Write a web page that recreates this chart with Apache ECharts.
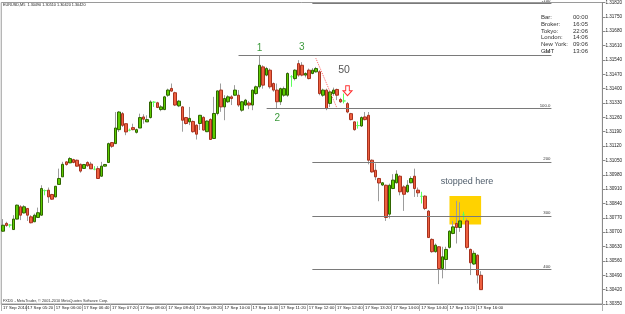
<!DOCTYPE html>
<html>
<head>
<meta charset="utf-8">
<script src="https://cdn.jsdelivr.net/npm/echarts@6/dist/echarts.min.js"></script>
<style>
  html, body { margin: 0; padding: 0; background: #fff; }
  #chart { width: 625px; height: 314px; }
</style>
</head>
<body>
<div id="chart"></div>
<script>
// EURUSD M5, 17 Sep 2010, first visible bar 04:45, last bar 16:05
const startMinutes = 4 * 60 + 45;
const emptySlots = 34; // chart shift on the right

const opens = [
  1.30705, 1.30743, 1.30735, 1.30713, 1.30764, 1.30824, 1.30794, 1.30816, 1.30775, 1.30751,
  1.30772, 1.30783, 1.30903, 1.30905, 1.30884, 1.30872, 1.30933, 1.30970, 1.31043, 1.31038,
  1.31054, 1.31051, 1.31031, 1.31011, 1.31040, 1.31032, 1.31007, 1.31010, 1.30973, 1.31022,
  1.31040, 1.31137, 1.31132, 1.31200, 1.31278, 1.31229, 1.31197, 1.31210, 1.31187, 1.31208,
  1.31262, 1.31238, 1.31259, 1.31334, 1.31331, 1.31298, 1.31298, 1.31368, 1.31401, 1.31380,
  1.31316, 1.31311, 1.31259, 1.31238, 1.31240, 1.31222, 1.31230, 1.31260, 1.31190, 1.31250,
  1.31157, 1.31279, 1.31393, 1.31311, 1.31336, 1.31360, 1.31368, 1.31368, 1.31295, 1.31320,
  1.31330, 1.31320, 1.31376, 1.31409, 1.31506, 1.31466, 1.31490, 1.31425, 1.31393, 1.31336,
  1.31368, 1.31368, 1.31458, 1.31449, 1.31522, 1.31514, 1.31466, 1.31490, 1.31474, 1.31482,
  1.31482, 1.31368, 1.31393, 1.31328, 1.31376, 1.31396, 1.31347, 1.31340, 1.31327, 1.31278,
  1.31238, 1.31220, 1.31218, 1.31262, 1.31270, 1.31051, 1.31002, 1.30962, 1.30930, 1.30929,
  1.30788, 1.30913, 1.30941, 1.30973, 1.30921, 1.30897, 1.30941, 1.30973, 1.30905, 1.30875,
  1.30876, 1.30803, 1.30665, 1.30605, 1.30629, 1.30523, 1.30567, 1.30626, 1.30694, 1.30743,
  1.30723, 1.30785, 1.30755, 1.30616, 1.30545, 1.30588, 1.30490
];
const highs = [
  1.30764, 1.30751, 1.30740, 1.30783, 1.30835, 1.30832, 1.30832, 1.30816, 1.30783, 1.30791,
  1.30820, 1.30929, 1.30908, 1.30918, 1.30887, 1.30926, 1.31010, 1.31043, 1.31046, 1.31067,
  1.31058, 1.31054, 1.31035, 1.31033, 1.31046, 1.31043, 1.31022, 1.31022, 1.31043, 1.31033,
  1.31137, 1.31140, 1.31286, 1.31291, 1.31286, 1.31229, 1.31205, 1.31229, 1.31205, 1.31278,
  1.31275, 1.31270, 1.31343, 1.31339, 1.31336, 1.31320, 1.31365, 1.31400, 1.31425, 1.31385,
  1.31345, 1.31315, 1.31262, 1.31311, 1.31245, 1.31225, 1.31272, 1.31265, 1.31245, 1.31255,
  1.31360, 1.31390, 1.31425, 1.31368, 1.31368, 1.31368, 1.31417, 1.31393, 1.31340, 1.31350,
  1.31340, 1.31395, 1.31415, 1.31563, 1.31514, 1.31506, 1.31498, 1.31430, 1.31425, 1.31405,
  1.31410, 1.31480, 1.31466, 1.31495, 1.31539, 1.31529, 1.31480, 1.31498, 1.31500, 1.31506,
  1.31490, 1.31400, 1.31400, 1.31390, 1.31405, 1.31400, 1.31355, 1.31376, 1.31335, 1.31282,
  1.31240, 1.31240, 1.31265, 1.31286, 1.31286, 1.31055, 1.31035, 1.30965, 1.30945, 1.30932,
  1.30937, 1.30983, 1.31002, 1.30978, 1.30929, 1.30954, 1.30973, 1.31010, 1.30918, 1.30897,
  1.30880, 1.30808, 1.30670, 1.30645, 1.30632, 1.30629, 1.30629, 1.30710, 1.30755, 1.30853,
  1.30846, 1.30800, 1.30767, 1.30620, 1.30610, 1.30592, 1.30510
];
const lows = [
  1.30702, 1.30726, 1.30723, 1.30713, 1.30762, 1.30759, 1.30791, 1.30755, 1.30743, 1.30749,
  1.30772, 1.30780, 1.30880, 1.30843, 1.30858, 1.30870, 1.30933, 1.30970, 1.31024, 1.31038,
  1.31036, 1.31020, 1.30990, 1.31009, 1.31019, 1.31009, 1.31002, 1.30962, 1.30970, 1.31020,
  1.31038, 1.31111, 1.31130, 1.31189, 1.31213, 1.31173, 1.31192, 1.31197, 1.31181, 1.31208,
  1.31229, 1.31238, 1.31254, 1.31311, 1.31305, 1.31290, 1.31295, 1.31360, 1.31385, 1.31315,
  1.31310, 1.31190, 1.31225, 1.31222, 1.31185, 1.31152, 1.31198, 1.31195, 1.31188, 1.31150,
  1.31155, 1.31270, 1.31287, 1.31246, 1.31330, 1.31320, 1.31365, 1.31311, 1.31287, 1.31315,
  1.31300, 1.31295, 1.31370, 1.31400, 1.31400, 1.31460, 1.31400, 1.31385, 1.31303, 1.31320,
  1.31360, 1.31360, 1.31409, 1.31440, 1.31458, 1.31460, 1.31455, 1.31445, 1.31470, 1.31478,
  1.31368, 1.31360, 1.31295, 1.31310, 1.31365, 1.31344, 1.31330, 1.31328, 1.31280, 1.31245,
  1.31195, 1.31205, 1.31213, 1.31245, 1.31031, 1.30990, 1.30954, 1.30851, 1.30925, 1.30755,
  1.30767, 1.30910, 1.30938, 1.30880, 1.30804, 1.30892, 1.30938, 1.30872, 1.30872, 1.30840,
  1.30808, 1.30674, 1.30600, 1.30600, 1.30447, 1.30475, 1.30515, 1.30620, 1.30690, 1.30645,
  1.30702, 1.30759, 1.30616, 1.30491, 1.30540, 1.30450, 1.30420
];
const closes = [
  1.30734, 1.30733, 1.30735, 1.30764, 1.30832, 1.30783, 1.30824, 1.30783, 1.30746, 1.30783,
  1.30795, 1.30913, 1.30903, 1.30872, 1.30861, 1.30924, 1.30962, 1.31031, 1.31030, 1.31059,
  1.31040, 1.31022, 1.30998, 1.31030, 1.31024, 1.31009, 1.31007, 1.30962, 1.31022, 1.31030,
  1.31132, 1.31119, 1.31208, 1.31286, 1.31221, 1.31189, 1.31197, 1.31200, 1.31200, 1.31259,
  1.31251, 1.31249, 1.31335, 1.31334, 1.31308, 1.31311, 1.31360, 1.31393, 1.31388, 1.31320,
  1.31339, 1.31246, 1.31230, 1.31255, 1.31190, 1.31178, 1.31270, 1.31198, 1.31242, 1.31152,
  1.31279, 1.31389, 1.31311, 1.31352, 1.31360, 1.31352, 1.31393, 1.31320, 1.31336, 1.31344,
  1.31320, 1.31393, 1.31409, 1.31514, 1.31417, 1.31498, 1.31409, 1.31393, 1.31336, 1.31400,
  1.31400, 1.31474, 1.31458, 1.31490, 1.31466, 1.31466, 1.31474, 1.31449, 1.31490, 1.31498,
  1.31376, 1.31393, 1.31303, 1.31384, 1.31393, 1.31368, 1.31336, 1.31340, 1.31286, 1.31249,
  1.31200, 1.31220, 1.31259, 1.31249, 1.31051, 1.30994, 1.30970, 1.30940, 1.30941, 1.30772,
  1.30929, 1.30954, 1.30983, 1.30897, 1.30885, 1.30929, 1.30962, 1.30913, 1.30892, 1.30875,
  1.30816, 1.30674, 1.30605, 1.30637, 1.30523, 1.30580, 1.30616, 1.30705, 1.30726, 1.30723,
  1.30755, 1.30785, 1.30626, 1.30551, 1.30597, 1.30491, 1.30420
];

const priceMin = 1.30350;
const priceMax = 1.31820;
const priceStep = 0.0007;
const lastPrice = 1.30420;

const timeTicks = [
  '17 Sep 2010', '17 Sep 05:20', '17 Sep 06:00', '17 Sep 06:40', '17 Sep 07:20', '17 Sep 08:00',
  '17 Sep 08:40', '17 Sep 09:20', '17 Sep 10:00', '17 Sep 10:40', '17 Sep 11:20', '17 Sep 12:00',
  '17 Sep 12:40', '17 Sep 13:20', '17 Sep 14:00', '17 Sep 14:40', '17 Sep 15:20', '17 Sep 16:00'
];

// fibo expansion levels
const fiboValues = [1.31815, 1.31563, 1.31302, 1.31041, 1.30780, 1.30519];
const fiboNames = ['-100', '0.0', '100.0', '200', '300', '400'];
const fiboStart = [88, 67, 75, 88, 88, 88];
const fiboEnd = 156;

const pad = n => (n < 10 ? '0' : '') + n;
const categories = [];
for (let i = 0; i < opens.length + emptySlots; i++) {
  const m = startMinutes + i * 5;
  categories.push('17 Sep ' + pad(Math.floor(m / 60)) + ':' + pad(m % 60));
}
const isTick = idx => idx === 0 || (idx >= 7 && (idx - 7) % 8 === 0 && (idx - 7) / 8 + 1 < timeTicks.length);
const tickText = idx => (idx === 0 ? timeTicks[0] : timeTicks[(idx - 7) / 8 + 1]);

const dojiColor = '#5dff5d';
const wickData = opens.map((o, i) => {
  const item = { value: [o, closes[i], lows[i], highs[i]] };
  if (o === closes[i]) item.itemStyle = { color: dojiColor, borderColor: dojiColor };
  return item;
});
const bodyData = opens.map((o, i) => [o, closes[i], Math.min(o, closes[i]), Math.max(o, closes[i])]);

const chart = echarts.init(document.getElementById('chart'));

chart.setOption({
  animation: false,
  backgroundColor: '#fff',
  textStyle: { fontFamily: 'Liberation Sans' },
  grid: {
    left: 1, right: 17, top: 2, bottom: 10,
    show: true, borderColor: '#9a9a9a', borderWidth: 1, backgroundColor: '#fff'
  },
  xAxis: {
    type: 'category',
    data: categories,
    boundaryGap: true,
    axisLine: { lineStyle: { color: '#8a8a8a' } },
    axisTick: { show: true, length: 7, interval: idx => isTick(idx), lineStyle: { color: '#b0b0b0' } },
    axisLabel: {
      interval: idx => isTick(idx),
      formatter: (v, idx) => tickText(idx),
      showMinLabel: true, hideOverlap: false,
      fontSize: 4.3, color: '#1a1a1a', align: 'left', margin: 2
    },
    splitLine: { show: false }
  },
  yAxis: {
    type: 'value',
    position: 'right',
    min: priceMin,
    max: priceMax,
    interval: priceStep,
    axisLine: { show: true, lineStyle: { color: '#8a8a8a' } },
    axisTick: { show: true, length: 3, lineStyle: { color: '#8a8a8a' } },
    axisLabel: { fontSize: 4.6, color: '#1a1a1a', margin: 3, formatter: v => v.toFixed(5) },
    splitLine: { show: false }
  },
  series: [
    {
      name: 'wicks',
      type: 'candlestick',
      data: wickData,
      barWidth: 1,
      z: 2,
      itemStyle: { color: '#9c9c9c', color0: '#9c9c9c', borderColor: '#9c9c9c', borderColor0: '#9c9c9c', borderWidth: 1 },
      markArea: {
        silent: true,
        itemStyle: { color: '#ffd200' },
        data: [[{ coord: [127, 1.30877] }, { coord: [136, 1.30738] }]]
      }
    },
    {
      name: 'EURUSD,M5',
      type: 'candlestick',
      data: bodyData,
      barWidth: 3,
      z: 3,
      itemStyle: {
        color: '#5ccc00', color0: '#ee6040',
        borderColor: '#2f6400', borderColor0: '#a8321e',
        borderColorDoji: dojiColor, borderWidth: 1
      },
      markLine: {
        silent: true,
        symbol: 'none',
        lineStyle: { color: '#7a7a7a', width: 1, type: 'solid' },
        data: fiboValues.map((v, k) => [
          { coord: [fiboStart[k], v], name: fiboNames[k] },
          { coord: [fiboEnd, v] }
        ]).concat([
          [
            { coord: [89, 1.31548], lineStyle: { color: '#ff6060', type: 'dotted', width: 1 }, label: { show: false } },
            { coord: [95, 1.31305] }
          ],
          [
            { yAxis: lastPrice, x: 607, lineStyle: { opacity: 0 },
              label: { show: true, position: 'end', formatter: lastPrice.toFixed(5), backgroundColor: '#000', color: '#fff', fontSize: 4.6, padding: [1, 2], distance: 3 } },
            { yAxis: lastPrice, x: 608 }
          ]
        ]),
        label: { formatter: p => p.name, position: 'insideEndTop', fontSize: 4.3, color: '#333', distance: 1 }
      },
      markPoint: {
        silent: true,
        data: [
          { coord: [73, 1.31597], symbolSize: 0, label: { show: true, formatter: '1', color: '#3d9a3d', fontSize: 10, position: 'inside' } },
          { coord: [85, 1.31602], symbolSize: 0, label: { show: true, formatter: '3', color: '#3d9a3d', fontSize: 10, position: 'inside' } },
          { coord: [78, 1.31256], symbolSize: 0, label: { show: true, formatter: '2', color: '#3d9a3d', fontSize: 10, position: 'inside' } },
          { coord: [97, 1.31490], symbolSize: 0, label: { show: true, formatter: '50', color: '#555', fontSize: 10.5, position: 'inside' } },
          { coord: [132, 1.30949], symbolSize: 0, label: { show: true, formatter: 'stopped here', color: '#4f5d6b', fontSize: 9, position: 'inside' } },
          {
            coord: [98, 1.31390],
            symbol: 'path://M3,0 L7,0 L7,5 L10,5 L5,10 L0,5 L3,5 Z',
            symbolSize: [9, 10],
            itemStyle: { color: '#fff', borderColor: '#ff3030', borderWidth: 1 },
            label: { show: false }
          }
        ]
      }
    }
  ],
  graphic: [
    { type: 'text', left: 3, top: 3, style: { text: 'EURUSD,M5  1.30490 1.30510 1.30420 1.30420', fontSize: 3.8, fill: '#222', fontFamily: 'Liberation Sans' } },
    { type: 'text', left: 3, top: 299, style: { text: 'FXDD - MetaTrader, \u00a9 2001-2010 MetaQuotes Software Corp.', fontSize: 3.8, fill: '#333', fontFamily: 'Liberation Sans' } },
    {
      type: 'text', right: 57, top: 14,
      style: { text: 'Bar:\nBroker:\nTokyo:\nLondon:\nNew York:\nGMT', fontSize: 6, lineHeight: 6.8, fill: '#333', align: 'right', fontFamily: 'Liberation Sans' }
    },
    {
      type: 'text', left: 573, top: 14,
      style: { text: '00:00\n16:05\n22:06\n14:06\n09:06\n13:06', fontSize: 6, lineHeight: 6.8, fill: '#333', fontFamily: 'Liberation Sans' }
    }
  ]
});
</script>
</body>
</html>
